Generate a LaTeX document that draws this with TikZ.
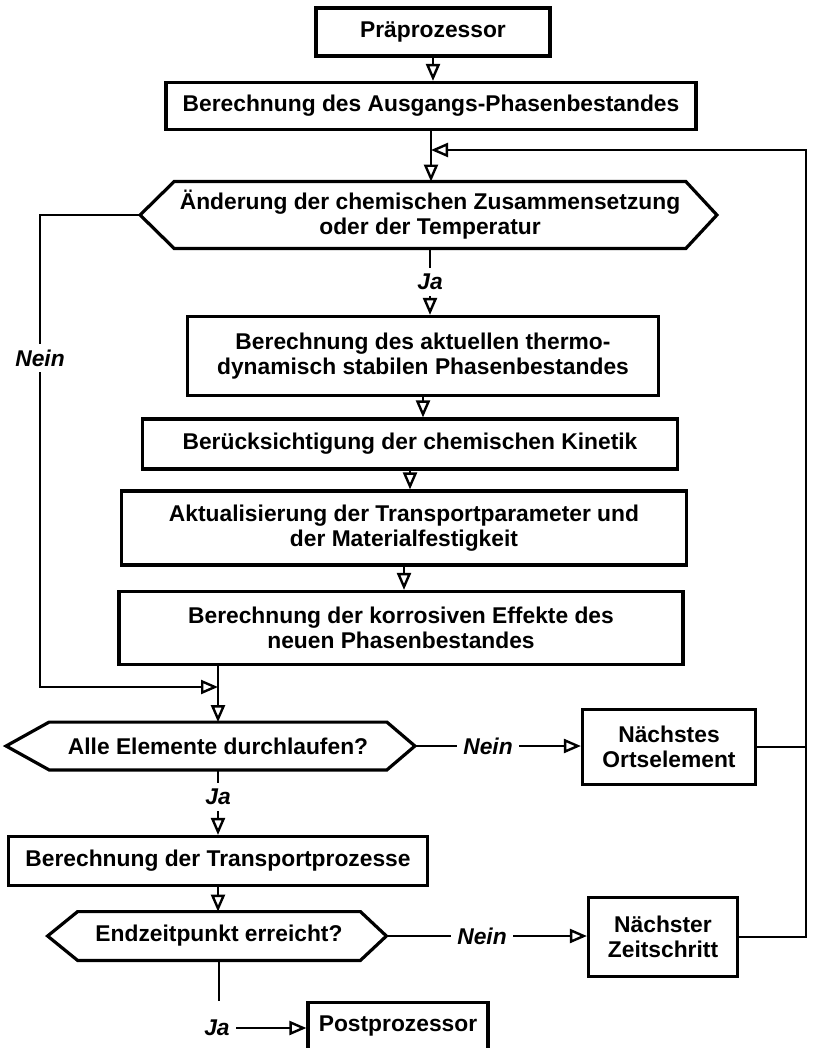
\documentclass[tikz,border=0pt]{standalone}
\usepackage{fontspec}
\setmainfont{Liberation Sans}
\usetikzlibrary{arrows.meta,calc}

\newcommand{\chartfont}{\fontsize{11.4}{12.6}\selectfont\bfseries}

\tikzset{
  box/.style={draw,line width=1.6pt,align=center,inner sep=2pt,font=\chartfont},
  decision/.style={align=center,inner sep=0pt,font=\chartfont},
  line/.style={line width=1.3pt},
  flow/.style={line width=1.3pt,-{Triangle[open,length=8.5pt,width=7pt,line width=1.2pt]}},
  lab/.style={font=\chartfont\itshape,inner sep=3pt,fill=white}
}

\begin{document}
\begin{tikzpicture}[x=0.5pt,y=-0.5pt]
\useasboundingbox (0,0) rectangle (818,1048);

% main column
\node[box,minimum width=117pt,minimum height=24pt] (pre) at (433,32) {Präprozessor};
\node[box,minimum width=265pt,minimum height=23.5pt] (ausg) at (431,106) {Berechnung des Ausgangs-Phasenbestandes};
\node[decision,minimum width=255.5pt,minimum height=33pt] (hex1) at (430,215) {Änderung der chemischen Zusammensetzung\\oder der Temperatur};
\node[lab] (ja1) at (430,282) {Ja};
\node[box,minimum width=235.5pt,minimum height=39.5pt] (thermo) at (423,356) {Berechnung des aktuellen thermo-\\dynamisch stabilen Phasenbestandes};
\node[box,minimum width=267.5pt,minimum height=25pt] (kin) at (410,444) {Berücksichtigung der chemischen Kinetik};
\node[box,minimum width=282.5pt,minimum height=37pt] (akt) at (404,528) {Aktualisierung der Transportparameter und\\der Materialfestigkeit};
\node[box,minimum width=282pt,minimum height=36.5pt] (korr) at (401,628) {Berechnung der korrosiven Effekte des\\neuen Phasenbestandes};

% lower part
\node[decision,minimum width=168.5pt,minimum height=23.5pt] (hex2) at (218,746) {Alle Elemente durchlaufen?};
\node[box,minimum width=86.5pt,minimum height=37.5pt] (orts) at (669,747) {Nächstes\\Ortselement};
\node[lab] (nein2) at (488,746) {Nein};
\node[lab] (ja2) at (218,797) {Ja};
\node[box,minimum width=209.5pt,minimum height=24.5pt] (trans) at (218,861) {Berechnung der Transportprozesse};
\node[decision,minimum width=141pt,minimum height=24pt] (hex3) at (219,936) {Endzeitpunkt erreicht?};
\node[box,minimum width=74.5pt,minimum height=39.5pt] (zeit) at (663,937) {Nächster\\Zeitschritt};
\node[lab] (nein3) at (482,936) {Nein};
\node[box,minimum width=90pt,minimum height=23.5pt] (post) at (398,1026) {Postprozessor};
\node[lab] (ja3) at (217,1028) {Ja};

% hexagons
\foreach \n/\l/\r in {hex1/34/31,hex2/43/28,hex3/30/26}{
	\draw[line width=1.6pt] (\n.north west) -- (\n.north east) -- ($(\n.east)+(\r,0)$) coordinate (\n-r)
		-- (\n.south east) -- (\n.south west) -- ($(\n.west)+(-\l,0)$) coordinate (\n-l) -- cycle;
}

\coordinate (back) at (806,150);
\coordinate (nl) at (40,215);
\coordinate (join) at (218,687);

\draw[flow] (pre.south) -- (pre.south |- ausg.north);
\draw[flow] (ausg.south) -- (ausg.south |- hex1.north);
\draw[line] (hex1.south) -- (ja1.north);
\draw[flow] (ja1.south) -- (ja1.south |- thermo.north);
\draw[flow] (thermo.south) -- (thermo.south |- kin.north);
\draw[flow] (kin.south) -- (kin.south |- akt.north);
\draw[flow] (akt.south) -- (akt.south |- korr.north);
\draw[flow] (korr.south -| join) -- (join |- hex2.north);

% Nein branch on the left
\draw[flow] (hex1-l) -| (nl |- join) -- (join);
\node[lab] (nein1) at (40,358) {Nein};

\draw[line] (hex2.south) -- (ja2.north);
\draw[flow] (ja2.south) -- (ja2.south |- trans.north);
\draw[flow] (trans.south) -- (trans.south |- hex3.north);
\draw[line] (hex3.south) -- (hex3.south |- post.north);
\draw[flow] (ja3.east) -- (ja3.east -| post.west);

% loops back
\draw[line] (hex2-r) -- (nein2.west);
\draw[flow] (nein2.east) -- (nein2.east -| orts.west);
\draw[line] (hex3-r) -- (nein3.west);
\draw[flow] (nein3.east) -- (nein3.east -| zeit.west);
\draw[line] (orts.east) -- (orts.east -| back);
\draw[flow] (zeit.east) -| (back) -- (back -| ausg.south);

\end{tikzpicture}
\end{document}
